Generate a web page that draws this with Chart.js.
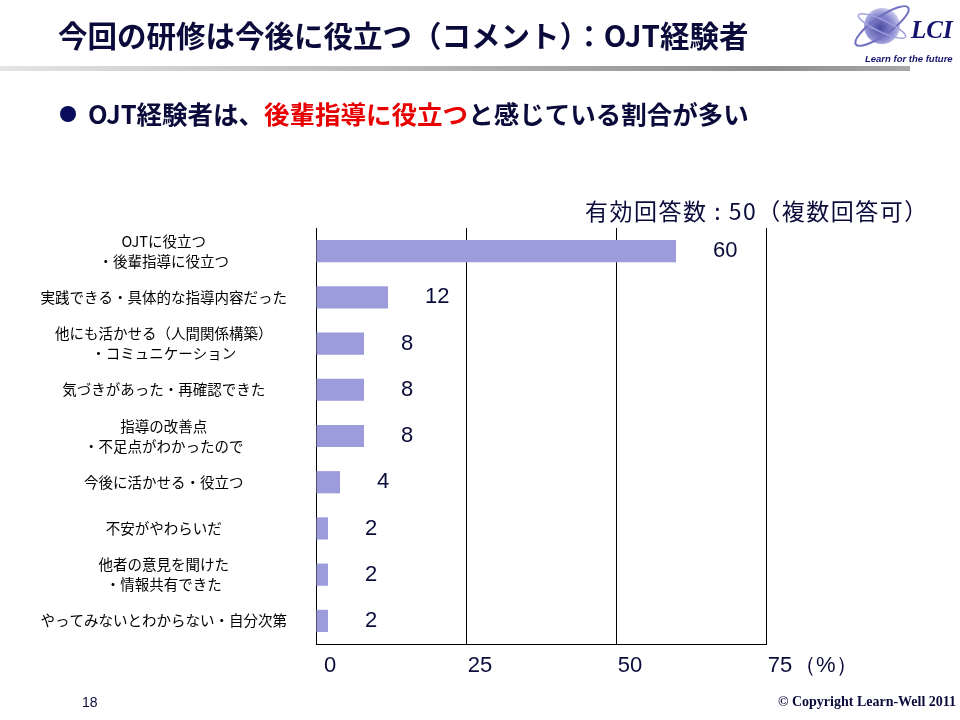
<!DOCTYPE html>
<html lang="ja">
<head>
<meta charset="utf-8">
<script src="https://cdn.jsdelivr.net/npm/chart.js@4"></script>
<style>
  body { margin: 0; background: #fff; }
  #page { position: relative; width: 960px; height: 720px; overflow: hidden; background: #fff; }
  #title { position: absolute; left: 58px; top: 14px; font: bold 29.5px "Noto Sans CJK JP", sans-serif; color: #0b0b3b; white-space: nowrap; line-height: 40px; }
  #rule { position: absolute; left: 0; top: 66px; width: 910px; height: 5px; background: linear-gradient(to right, #e4e4e4, #8e8e8e 85%, #a8a8a8); }
  #bullet { position: absolute; left: 60px; top: 95px; font: bold 25.5px "Noto Sans CJK JP", sans-serif; color: #0b0b3b; white-space: nowrap; line-height: 36px; }
  #bullet .dot { display: inline-block; width: 16px; height: 16px; border-radius: 50%; background: #0b0b5b; margin-right: 12px; vertical-align: 2px; }
  #bullet .red { color: #e80000; }
  #note { position: absolute; left: 585px; top: 194px; font: 23px "Noto Sans CJK JP", sans-serif; letter-spacing: 1.5px; color: #0b0b3b; white-space: nowrap; line-height: 32px; }
  #page-no { position: absolute; left: 82px; top: 694px; font: 14px "Liberation Sans", sans-serif; color: #0b0b3b; }
  #copy { position: absolute; left: 778px; top: 694px; font: bold 14px "Liberation Serif", serif; color: #0b0b3b; white-space: nowrap; }
  #logo { position: absolute; left: 848px; top: 0; }
  #wrap { position: absolute; left: 0; top: 0; width: 960px; height: 720px; }
</style>
</head>
<body>
<div id="page">
  <div id="wrap"><canvas id="myChart" width="960" height="720"></canvas></div>
  <div id="title">今回の研修は今後に役立つ（コメント）：OJT経験者</div>
  <div id="rule"></div>
  <svg id="logo" width="112" height="68">
    <defs>
      <radialGradient id="globe" cx="0.45" cy="0.55" r="0.6">
        <stop offset="0" stop-color="#4a4aa0"/>
        <stop offset="0.6" stop-color="#8a8ad0"/>
        <stop offset="1" stop-color="#d8d8f2"/>
      </radialGradient>
    </defs>
    <circle cx="34" cy="26" r="18" fill="url(#globe)"/>
    <ellipse cx="34" cy="26" rx="32" ry="9" fill="none" stroke="#7070c0" stroke-width="2" transform="rotate(-35 34 26)"/>
    <ellipse cx="34" cy="26" rx="26" ry="6" fill="none" stroke="#a0a0dc" stroke-width="1.5" transform="rotate(25 34 26)"/>
    <text x="63" y="38" font-family="Liberation Serif" font-style="italic" font-weight="bold" font-size="25" fill="#14146e">LCI</text>
    <text x="17" y="62" font-family="Liberation Sans" font-style="italic" font-weight="bold" font-size="9.5" fill="#14146e">Learn for the future</text>
  </svg>
  <div id="bullet"><span class="dot"></span>OJT経験者は、<span class="red">後輩指導に役立つ</span>と感じている割合が多い</div>
  <div id="note">有効回答数 : 50（複数回答可）</div>
  <div id="page-no">18</div>
  <div id="copy">© Copyright Learn-Well 2011</div>
</div>
<script>
// categories (top to bottom)
const categories = [
  ["OJTに役立つ", "・後輩指導に役立つ"],
  "実践できる・具体的な指導内容だった",
  ["他にも活かせる（人間関係構築）", "・コミュニケーション"],
  "気づきがあった・再確認できた",
  ["指導の改善点", "・不足点がわかったので"],
  "今後に活かせる・役立つ",
  "不安がやわらいだ",
  ["他者の意見を聞けた", "・情報共有できた"],
  "やってみないとわからない・自分次第",
];

// percentage of answers
const values = [60, 12, 8, 8, 8, 4, 2, 2, 2];

// x axis ticks
const tickValues = [0, 25, 50, 75];
const unitLabel = "（%）";

const textColor = "#0b0b3b";

// value labels next to each bar, and the unit after the last tick
const labelPlugin = {
  id: "valueLabels",
  afterDatasetsDraw(chart) {
    const ctx = chart.ctx;
    const meta = chart.getDatasetMeta(0);
    ctx.save();
    ctx.font = "22px 'Liberation Sans', Arial, sans-serif";
    ctx.fillStyle = textColor;
    ctx.textAlign = "left";
    ctx.textBaseline = "middle";
    meta.data.forEach((bar, i) => {
      ctx.fillText(String(values[i]), bar.x + 37, bar.y);
    });
    const x = chart.scales.x;
    const last = tickValues[tickValues.length - 1];
    ctx.fillText(unitLabel, x.getPixelForValue(last) + 28, x.top + 22);
    ctx.restore();
  },
};

const ctx = document.getElementById("myChart").getContext("2d");

const myChart = new Chart(ctx, {
  type: "bar",
  data: {
    labels: categories,
    datasets: [
      {
        data: values,
        backgroundColor: "#9c9cdc",
        borderWidth: 0,
        barPercentage: 0.48,
        categoryPercentage: 1,
      },
    ],
  },
  options: {
    indexAxis: "y",
    responsive: false,
    animation: false,
    layout: {
      padding: { top: 228, right: 194, left: 0, bottom: 0 },
    },
    scales: {
      x: {
        min: 0,
        max: 75,
        afterBuildTicks: (scale) => {
          scale.ticks = tickValues.map((v) => ({ value: v }));
        },
        afterFit: (scale) => {
          scale.height = 76;
        },
        grid: {
          color: "#000",
          lineWidth: 1,
          drawTicks: false,
        },
        border: { display: true, color: "#000", width: 1 },
        ticks: {
          color: textColor,
          font: { family: "'Liberation Sans', Arial, sans-serif", size: 22 },
          padding: 9,
          labelOffset: 14,
          maxRotation: 0,
        },
      },
      y: {
        afterFit: (scale) => {
          scale.width = 316;
        },
        grid: { display: false, drawTicks: false },
        border: { display: true, color: "#000", width: 1 },
        ticks: {
          color: "#000",
          crossAlign: "center",
          padding: 29,
          font: { family: "'Noto Sans CJK JP', sans-serif", size: 14.5, lineHeight: 1.38 },
        },
      },
    },
    plugins: {
      legend: { display: false },
      tooltip: { enabled: false },
    },
  },
  plugins: [labelPlugin],
});
</script>
</body>
</html>
